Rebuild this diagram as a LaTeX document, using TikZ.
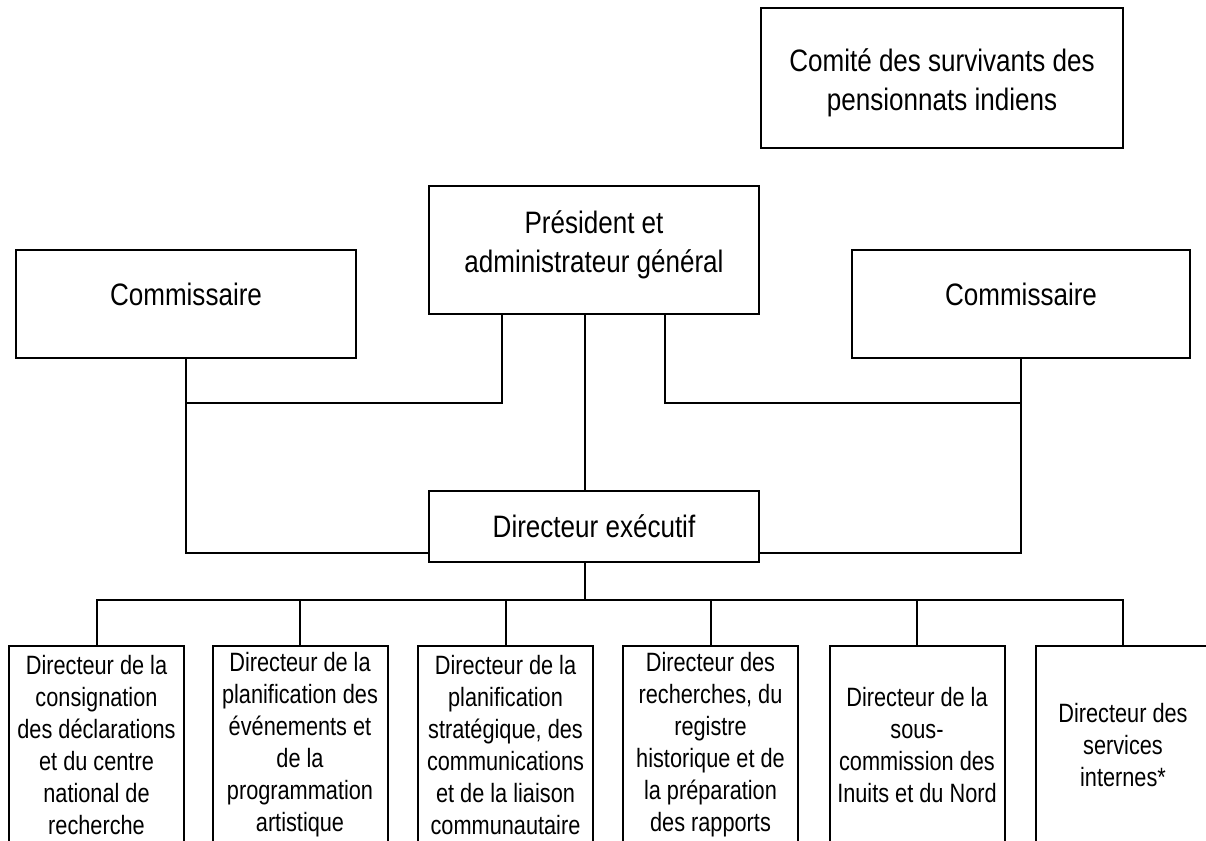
\documentclass[tikz,border=0pt]{standalone}
\usepackage{fontspec}
\setmainfont{Liberation Sans}
\newfontfamily\bigfam[FakeStretch=0.84]{Liberation Sans}
\newfontfamily\smallfam[FakeStretch=0.82]{Liberation Sans}
\begin{document}
\begin{tikzpicture}[x=1pt,y=-1pt,
  box/.style={draw=black, line width=2pt, fill=white, inner sep=0pt, outer sep=0pt, align=center},
  bigtext/.style={font=\bigfam\fontsize{31}{39}\selectfont, align=center},
  smalltext/.style={font=\smallfam\fontsize{26.5}{32}\selectfont},
  child/.style={box, smalltext, minimum width=175pt, minimum height=198pt},
  link/.style={line width=2pt, line cap=rect}]
\fill[white] (0,0) rectangle (1206,840);
\useasboundingbox (0,0) rectangle (1206,840);
\clip (0,0) rectangle (1206,840);

\node[box, minimum width=362pt, minimum height=140pt,
  label={[bigtext, name=comitetxt, yshift=-5pt]center:{Comité des survivants des\\pensionnats indiens}}] (comite) at (942,78) {};
\node[box, minimum width=330pt, minimum height=128pt,
  label={[bigtext, name=prestxt, yshift=5pt]center:{Président et\\administrateur général}}] (pres) at (594,250) {};
\node[box, minimum width=340pt, minimum height=108pt,
  label={[bigtext, name=cltxt, yshift=10pt]center:Commissaire}] (cl) at (186,304) {};
\node[box, minimum width=338pt, minimum height=108pt,
  label={[bigtext, name=crtxt, yshift=10pt]center:Commissaire}] (cr) at (1021,304) {};
\node[box, bigtext, minimum width=330pt, minimum height=71pt] (de) at (594,526.5) {Directeur exécutif};

\node[child] (c1) at (96.5,745) {Directeur de la\\consignation\\des déclarations\\et du centre\\national de\\recherche};
\node[child] (c2) at (300,745) {Directeur de la\\planification des\\événements et\\de la\\programmation\\artistique};
\node[child] (c3) at (505.5,745) {Directeur de la\\planification\\stratégique, des\\communications\\et de la liaison\\communautaire};
\node[child] (c4) at (710.5,745) {Directeur des\\recherches, du\\registre\\historique et de\\la préparation\\des rapports};
\node[child] (c5) at (917,745) {Directeur de la\\sous-\\commission des\\Inuits et du Nord};
\node[child] (c6) at (1123,745) {Directeur des\\services\\internes*};

\coordinate (jy) at (0,403);
\coordinate (bus) at (585,600);

% President to executive director
\draw[link] ([xshift=-9pt]pres.south) -- ([xshift=-9pt]pres.south |- de.north);
% left commissioner
\draw[link] ([xshift=-92pt]pres.south) |- (cl.south |- jy);
\draw[link] (cl.south) |- ([yshift=9pt]de.south west);
% right commissioner
\draw[link] ([xshift=71pt]pres.south) |- (cr.south |- jy);
\draw[link] (cr.south) |- ([yshift=9pt]de.south east);
% executive director to children
\draw[link] ([xshift=-9pt]de.south) -- (bus);
\draw[link] (c1.north) -- (c1.north |- bus) -- (c6.north |- bus) -- (c6.north);
\foreach \c in {c2,c3,c4,c5} \draw[link] (\c.north) -- (\c.north |- bus);
\end{tikzpicture}
\end{document}
